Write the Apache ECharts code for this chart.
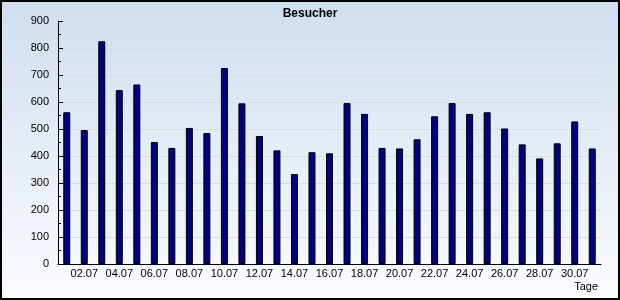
<!DOCTYPE html>
<html><head><meta charset="utf-8">
<script src="https://cdn.jsdelivr.net/npm/echarts@6/dist/echarts.min.js"></script>
<style>html,body{margin:0;padding:0;background:#fff}#c{width:620px;height:300px}</style>
</head><body><div id="c"></div>
<script>
const titleText = "Besucher";
const xName = "Tage";
const categories = ["01.07","02.07","03.07","04.07","05.07","06.07","07.07","08.07","09.07","10.07","11.07","12.07","13.07","14.07","15.07","16.07","17.07","18.07","19.07","20.07","21.07","22.07","23.07","24.07","25.07","26.07","27.07","28.07","29.07","30.07","31.07"];
const visitors = [562,496,825,644,665,452,430,504,485,726,595,474,421,333,414,410,596,556,430,428,462,547,596,556,562,502,443,391,447,528,428];
const yMin = 0, yMax = 900, yStep = 100;

const chart = echarts.init(document.getElementById('c'), null, {renderer:'canvas'});
chart.setOption({
  animation:false,
  backgroundColor:{type:'linear',x:0,y:0,x2:0,y2:1,colorStops:[{offset:0,color:'#cfdef0'},{offset:1,color:'#fbfcfe'}]},
  title:{text:titleText,left:'center',top:3,textStyle:{fontFamily:'Liberation Sans',fontSize:12,fontWeight:'bold',color:'#000'}},
  grid:{left:58,right:19,top:21,bottom:36},
  xAxis:{type:'category',data:categories,
    axisLine:{lineStyle:{color:'#000',width:1}},
    axisTick:{inside:true,length:4,interval:0,lineStyle:{color:'#000'}},
    axisLabel:{interval:function(i){return i%2===1;},color:'#000',fontFamily:'Liberation Sans',fontSize:11,margin:4},
    splitLine:{show:false}},
  yAxis:{type:'value',min:yMin,max:yMax,interval:yStep,
    axisLine:{show:true,lineStyle:{color:'#000',width:1}},
    axisTick:{show:true,inside:true,length:5,lineStyle:{color:'#000'}},
    minorTick:{show:true,splitNumber:2,length:3,lineStyle:{color:'#000'}},
    axisLabel:{color:'#000',fontFamily:'Liberation Sans',fontSize:11,margin:9},
    splitLine:{show:true,lineStyle:{color:'#dcdcdc',width:1}}},
  series:[{type:'bar',data:visitors,barWidth:7,
    itemStyle:{color:'#000080',borderColor:'#000',borderWidth:1}}],
  graphic:[
    {type:'text',right:22,top:281,style:{text:xName,font:'11px "Liberation Sans"',fill:'#000'}},
    {type:'rect',shape:{x:1,y:1,width:618,height:298},style:{fill:null,stroke:'#000',lineWidth:2},z:100}
  ]
});
</script></body></html>
